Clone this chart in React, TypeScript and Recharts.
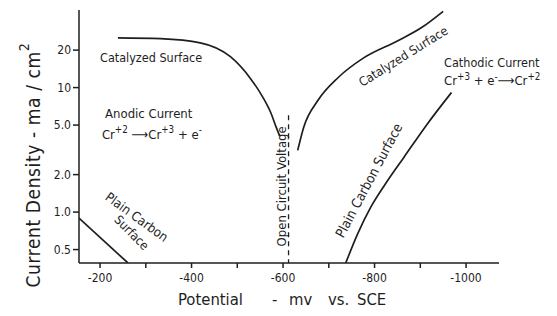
import { Line, LineChart, ReferenceDot, XAxis, YAxis } from 'recharts';

const FONT = '"DejaVu Sans Condensed", "Liberation Sans Narrow", "DejaVu Sans", sans-serif';
const INK = '#1e1e1e';

// potential in mV vs SCE, current density in ma/cm2
const anodicCatPot = [-239, -332, -419, -485, -529, -555, -573, -586, -593];
const anodicCatCur = [25.1, 24.7, 22.9, 17.7, 11.8, 8.47, 6.31, 4.7, 4.06];

const cathodicCatPot = [-632, -645, -676, -720, -777, -851, -902, -950];
const cathodicCatCur = [3.13, 4.79, 7.87, 12.0, 17.4, 23.8, 30.2, 41];

const plainRightPot = [-737, -764, -792, -829, -864, -913, -968];
const plainRightCur = [0.39, 0.68, 1.1, 1.8, 2.75, 4.97, 9.12];

const plainLeftPot = [-154, -261];
const plainLeftCur = [0.895, 0.39];

const ocvPot = [-612, -612];
const ocvCur = [6, 0.39];

const xTicks = [-200, -300, -400, -500, -600, -700, -800, -900, -1000];
const xLabelled = [-200, -400, -600, -800, -1000];
const yTicks = [0.5, 1, 2, 5, 10, 20];
const yTickLabels = ['0.5', '1.0', '2.0', '5.0', '10', '20'];

const zip = (p: number[], c: number[]) => p.map((pot, i) => ({ pot, cur: c[i] }));

type Part = [string, 'n' | 'sup'];
type Note = { pot: number; cur: number; angle: number; anchor: 'start' | 'middle'; size: number; parts: Part[] };

const notes: Note[] = [
  { pot: -200, cur: 16.1, angle: 0, anchor: 'start', size: 12.5, parts: [['Catalyzed Surface', 'n']] },
  { pot: -211, cur: 5.75, angle: 0, anchor: 'start', size: 13, parts: [['Anodic Current', 'n']] },
  { pot: -204, cur: 3.84, angle: 0, anchor: 'start', size: 13, parts: [['Cr', 'n'], ['+2', 'sup'], [' \u27F6Cr', 'n'], ['+3', 'sup'], [' + e', 'n'], ['-', 'sup']] },
  { pot: -862, cur: 18.0, angle: -32, anchor: 'middle', size: 12.5, parts: [['Catalyzed Surface', 'n']] },
  { pot: -952, cur: 14.7, angle: 0, anchor: 'start', size: 12.5, parts: [['Cathodic Current', 'n']] },
  { pot: -952, cur: 10.4, angle: 0, anchor: 'start', size: 13, parts: [['Cr', 'n'], ['+3', 'sup'], [' + e', 'n'], ['-', 'sup'], ['\u27F6Cr', 'n'], ['+2', 'sup']] },
  { pot: -787, cur: 1.8, angle: -62, anchor: 'middle', size: 13.5, parts: [['Plain Carbon Surface', 'n']] },
  { pot: -281, cur: 0.92, angle: 36, anchor: 'middle', size: 13, parts: [['Plain Carbon', 'n']] },
  { pot: -270, cur: 0.69, angle: 45, anchor: 'middle', size: 12.5, parts: [['Surface', 'n']] },
  { pot: -595, cur: 1.61, angle: -90, anchor: 'middle', size: 13, parts: [['Open Circuit Voltage', 'n']] }
];

function tspans(parts: Part[], size: number) {
  let shift = 0;
  return parts.map(([t, kind], i) => {
    const target = kind === 'sup' ? -size * 0.45 : 0;
    const dy = target - shift;
    shift = target;
    return (
      <tspan key={i} dy={dy} fontSize={kind === 'sup' ? size * 0.75 : size}>
        {t}
      </tspan>
    );
  });
}

const noteLabel = (n: Note) => (props: any) => {
  const vb = props.viewBox || {};
  const x = (vb.x || 0) + (vb.width || 0) / 2;
  const y = (vb.y || 0) + (vb.height || 0) / 2;
  return (
    <text
      x={x}
      y={y}
      fill={INK}
      fontFamily={FONT}
      fontSize={n.size}
      textAnchor={n.anchor}
      dominantBaseline={n.anchor === 'middle' ? 'central' : 'alphabetic'}
      transform={n.angle ? `rotate(${n.angle} ${x} ${y})` : undefined}
    >
      {tspans(n.parts, n.size)}
    </text>
  );
};

const yTitle = (props: any) => {
  const vb = props.viewBox || {};
  const x = vb.x + 14;
  const y = vb.y + 155;
  return (
    <text x={x} y={y} fill={INK} fontFamily={FONT} fontSize={19} letterSpacing={0.6} textAnchor="middle" dominantBaseline="central" transform={`rotate(-90 ${x} ${y})`}>
      {tspans([['Current Density - ma / cm', 'n'], ['2', 'sup']], 19)}
    </text>
  );
};

const xTitle = (props: any) => {
  const vb = props.viewBox || {};
  const y = vb.y + 42;
  const words: [string, number][] = [['Potential', 99], ['-', 193], ['mv', 210], ['vs.', 249], ['SCE', 278]];
  return (
    <text y={y} fill={INK} fontFamily={FONT} fontSize={16.5}>
      {words.map(([w, dx]) => (
        <tspan key={w} x={vb.x + dx}>
          {w}
        </tspan>
      ))}
    </text>
  );
};

export default function App() {
  const tickStyle = { fill: INK, fontFamily: FONT, fontSize: 12 };
  return (
    <div style={{ position: 'absolute', left: 0, top: 0, background: '#fff' }}>
      <LineChart width={557} height={316} margin={{ top: 10, right: 58, left: 19, bottom: 23 }}>
        <XAxis
          type="number"
          dataKey="pot"
          domain={[-1072, -154]}
          reversed
          allowDataOverflow
          ticks={xTicks}
          tickFormatter={(v: number) => (xLabelled.includes(v) ? String(v) : '')}
          tick={tickStyle}
          tickSize={5}
          tickMargin={5}
          height={30}
          stroke={INK}
          strokeWidth={1.5}
          label={xTitle}
        />
        <YAxis
          type="number"
          scale="log"
          domain={[0.39, 42]}
          allowDataOverflow
          ticks={yTicks}
          tickFormatter={(v: number) => yTickLabels[yTicks.indexOf(v)] ?? ''}
          tick={tickStyle}
          tickSize={6}
          tickMargin={2}
          width={60}
          stroke={INK}
          strokeWidth={1.5}
          label={yTitle}
        />
        <Line data={zip(anodicCatPot, anodicCatCur)} dataKey="cur" type="monotone" stroke={INK} strokeWidth={1.7} dot={false} activeDot={false} isAnimationActive={false} />
        <Line data={zip(cathodicCatPot, cathodicCatCur)} dataKey="cur" type="monotone" stroke={INK} strokeWidth={1.7} dot={false} activeDot={false} isAnimationActive={false} />
        <Line data={zip(plainRightPot, plainRightCur)} dataKey="cur" type="monotone" stroke={INK} strokeWidth={1.7} dot={false} activeDot={false} isAnimationActive={false} />
        <Line data={zip(plainLeftPot, plainLeftCur)} dataKey="cur" type="linear" stroke={INK} strokeWidth={1.7} dot={false} activeDot={false} isAnimationActive={false} />
        <Line data={zip(ocvPot, ocvCur)} dataKey="cur" type="linear" stroke={INK} strokeWidth={1.3} strokeDasharray="5 4" dot={false} activeDot={false} isAnimationActive={false} />
        {notes.map((n, i) => (
          <ReferenceDot key={i} x={n.pot} y={n.cur} r={0} stroke="none" fill="none" ifOverflow="visible" label={noteLabel(n)} />
        ))}
      </LineChart>
    </div>
  );
}
